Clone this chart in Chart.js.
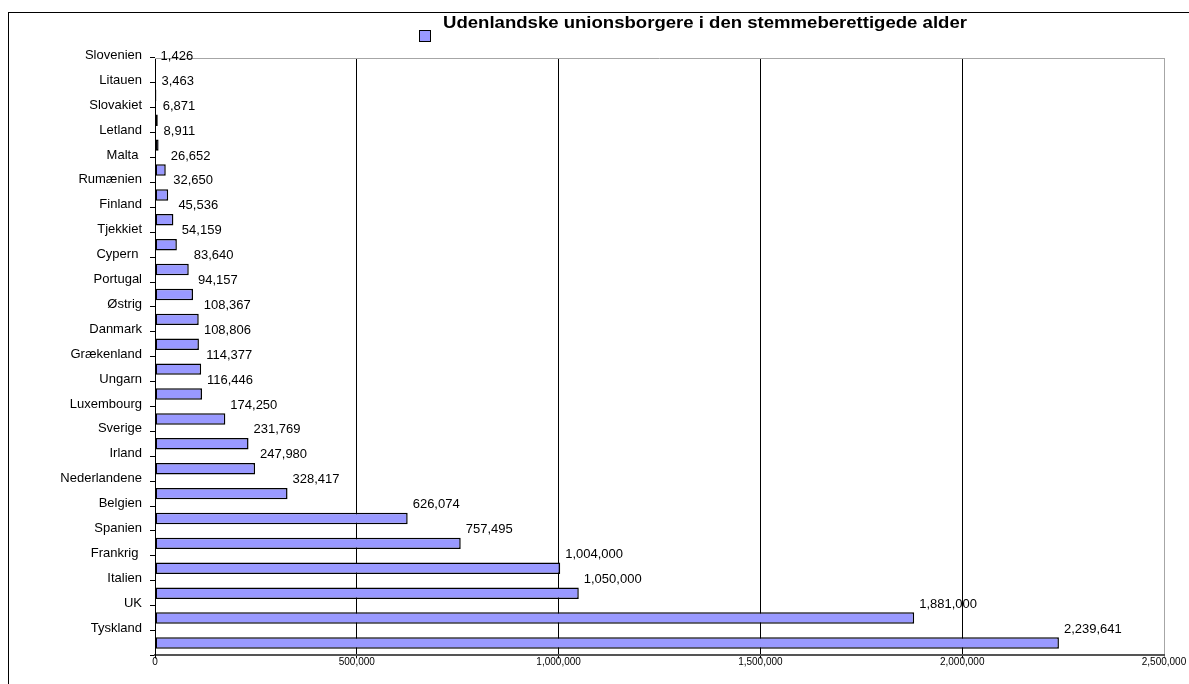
<!DOCTYPE html>
<html>
<head>
<meta charset="utf-8">
<script src="https://cdn.jsdelivr.net/npm/chart.js@4.4.1/dist/chart.umd.min.js"></script>
<style>
  html, body { margin: 0; padding: 0; background: #fff; overflow: hidden; }
</style>
</head>
<body>
<canvas id="chart" width="1189" height="684"></canvas>
<script>
// data
const countries = [
  "Slovenien", "Litauen", "Slovakiet", "Letland", "Malta ", "Rumænien",
  "Finland", "Tjekkiet", "Cypern ", "Portugal", "Østrig", "Danmark",
  "Grækenland", "Ungarn", "Luxembourg", "Sverige", "Irland", "Nederlandene",
  "Belgien", "Spanien", "Frankrig ", "Italien", "UK", "Tyskland"
];
const voters = [
  1426, 3463, 6871, 8911, 26652, 32650,
  45536, 54159, 83640, 94157, 108367, 108806,
  114377, 116446, 174250, 231769, 247980, 328417,
  626074, 757495, 1004000, 1050000, 1881000, 2239641
];
const xTicks = [0, 500000, 1000000, 1500000, 2000000, 2500000];
const seriesName = "Udenlandske unionsborgere i den stemmeberettigede alder";

const FONT = '"Liberation Sans", Arial, sans-serif';
Chart.defaults.font.family = FONT;
Chart.defaults.color = "#000";

// outer frame, top border of plot, legend
const frame = {
  id: "frame",
  beforeDraw(chart) {
    const ctx = chart.ctx;
    ctx.save();
    ctx.fillStyle = "#fff";
    ctx.fillRect(0, 0, chart.width, chart.height);
    ctx.strokeStyle = "#000";
    ctx.lineWidth = 1;
    ctx.strokeRect(8.5, 12.5, chart.width + 20, chart.height + 20);
    ctx.restore();
  },
  beforeDatasetsDraw(chart) {
    const ctx = chart.ctx;
    const a = chart.chartArea;
    ctx.save();
    ctx.strokeStyle = "#a6a6a6";
    ctx.lineWidth = 1;
    ctx.beginPath();
    ctx.moveTo(a.left, Math.round(a.top) + 0.5);
    ctx.lineTo(a.right, Math.round(a.top) + 0.5);
    ctx.stroke();
    ctx.restore();
  },
  afterDraw(chart) {
    const ctx = chart.ctx;
    ctx.save();
    ctx.fillStyle = "#9999ff";
    ctx.fillRect(420, 31, 10, 10);
    ctx.strokeStyle = "#000";
    ctx.strokeRect(419.5, 30.5, 11, 11);
    // the title text in the original is a bit wider than Arial bold
    ctx.translate(443, 24);
    ctx.scale(1.16, 1);
    ctx.fillStyle = "#000";
    ctx.font = "bold 16px " + FONT;
    ctx.textAlign = "left";
    ctx.textBaseline = "middle";
    ctx.fillText(seriesName, 0, 0);
    ctx.restore();
  }
};

// numbers next to the bars (sit a bit above, like the original)
const valueLabels = {
  id: "valueLabels",
  afterDatasetsDraw(chart) {
    const ctx = chart.ctx;
    const meta = chart.getDatasetMeta(0);
    ctx.save();
    ctx.font = "13px " + FONT;
    ctx.fillStyle = "#000";
    ctx.textAlign = "left";
    ctx.textBaseline = "middle";
    meta.data.forEach((bar, i) => {
      ctx.fillText(voters[i].toLocaleString("en-US"), bar.x + 5, bar.y - 14);
    });
    ctx.restore();
  }
};

new Chart(document.getElementById("chart"), {
  type: "bar",
  data: {
    labels: countries,
    datasets: [{
      label: seriesName,
      data: voters,
      backgroundColor: "#9999ff",
      borderColor: "#000",
      borderWidth: 1.5,
      borderSkipped: false,
      barPercentage: 0.46,
      categoryPercentage: 1.0
    }]
  },
  options: {
    indexAxis: "y",
    responsive: false,
    animation: false,
    layout: { padding: { left: 0, right: 25, top: 58, bottom: 6.6 } },
    plugins: {
      legend: { display: false },
      tooltip: { enabled: false }
    },
    scales: {
      x: {
        min: xTicks[0],
        max: xTicks[xTicks.length - 1],
        afterBuildTicks: (s) => { s.ticks = xTicks.map(v => ({ value: v })); },
        ticks: {
          font: { size: 10 },
          color: "#000",
          padding: -2,
          maxRotation: 0,
          autoSkip: false,
          callback: (v) => v.toLocaleString("en-US")
        },
        grid: {
          color: (c) => (c.index === xTicks.length - 1 ? "#a6a6a6" : "#000"),
          tickLength: 3
        },
        border: { color: "#555", width: 2 },
        afterFit: (s) => { s.height = 22; }
      },
      y: {
        ticks: {
          font: { size: 13 },
          color: "#000",
          labelOffset: -15,
          padding: 8,
          autoSkip: false
        },
        grid: { drawOnChartArea: false, offset: true, tickLength: 5, color: "#000" },
        border: { color: "#000", width: 1 },
        afterFit: (s) => { s.width = 155; }
      }
    }
  },
  plugins: [frame, valueLabels]
});
</script>
</body>
</html>
